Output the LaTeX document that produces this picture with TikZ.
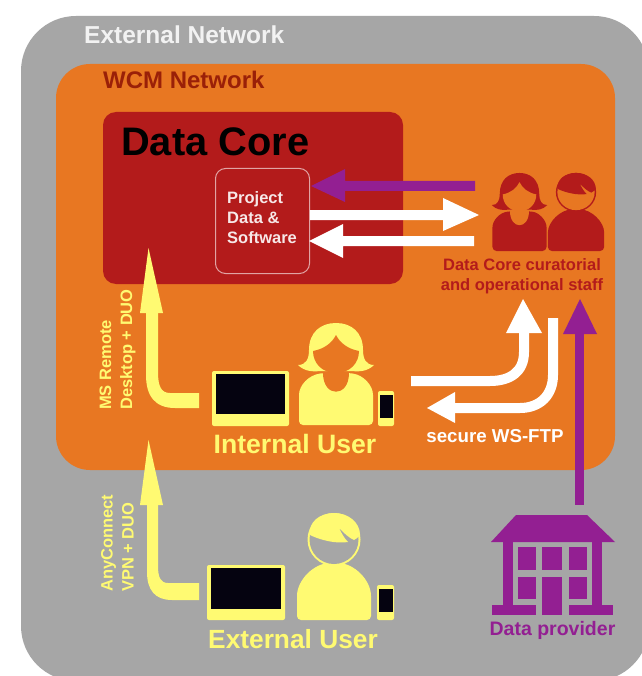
\documentclass[tikz,border=0pt]{standalone}
\usepackage{fontspec}
\setmainfont{Liberation Sans}
\definecolor{gr}{HTML}{A6A6A6}
\definecolor{og}{HTML}{E87722}
\definecolor{dr}{HTML}{B31B1B}
\definecolor{wcmc}{HTML}{9A2008}
\definecolor{yl}{HTML}{FFFA72}
\definecolor{pu}{HTML}{931F92}
\definecolor{ink}{HTML}{050310}
\tikzset{
  lbl/.style={inner sep=0pt,font=\bfseries,align=center},
  side/.style={lbl,rotate=90,anchor=west,align=left,text=yl,font=\bfseries\fontsize{16.5}{21}\selectfont},
  wire/.style={line width=10pt,line cap=butt,line join=round,white},
}
% woman, origin at the middle of the foot line, drawn at full (internal user) size
\newcommand{\womanfig}[2]{%
  \fill[#1,rounded corners=4pt] (-37,0) -- (-37,-26) .. controls (-37,-40) and (-27,-50) .. (-12,-52) -- (13,-52) .. controls (27,-50) and (37,-40) .. (37,-26) -- (37,0) -- cycle;
  \fill[#1] (-38,-60) .. controls (-30,-60) and (-27,-66) .. (-27,-75) .. controls (-27,-93) and (-15,-102) .. (0,-102) .. controls (15,-102) and (27,-93) .. (27,-75) .. controls (27,-66) and (30,-60) .. (38,-60) .. controls (32,-54) and (24,-53) .. (16,-54) -- (-16,-54) .. controls (-24,-53) and (-32,-54) .. (-38,-60) -- cycle;
  \fill[#2] (-23,-74) .. controls (-12,-76) and (-4,-82) .. (0,-90) .. controls (4,-82) and (12,-76) .. (23,-74) .. controls (23,-62) and (14,-52) .. (0,-52) .. controls (-14,-52) and (-23,-62) .. (-23,-74) -- cycle;
  \fill[#2] (-13,-52.5) .. controls (-13,-27) and (13,-27) .. (13,-52.5) -- cycle;
}
% man, same origin
\newcommand{\manfig}[2]{%
  \fill[#1,rounded corners=4pt] (-37,0) -- (-37,-20) .. controls (-37,-40) and (-20,-57) .. (0,-57) .. controls (20,-57) and (37,-40) .. (37,-20) -- (37,0) -- cycle;
  \fill[#1] (0,-80.5) circle (26.5pt);
  \fill[#2] (0,-80.5) circle (24.5pt);
  \fill[#1] (-24,-85) .. controls (-14,-80) and (2,-76) .. (14,-78) .. controls (10,-82) and (7,-88) .. (5,-92) .. controls (10,-87) and (15,-82) .. (20,-80) .. controls (24,-82) and (26,-85) .. (26,-85) .. controls (26,-98) and (14,-107) .. (0,-107) .. controls (-14,-107) and (-26,-98) .. (-24,-85) -- cycle;
}
\begin{document}
\begin{tikzpicture}[x=1pt,y=-1pt]
\useasboundingbox (0,0) rectangle (641,676);
\fill[white] (0,0) rectangle (641,676);
\fill[gr,rounded corners=55pt] (21,16) rectangle (649,681);
\fill[og,rounded corners=34pt] (56,64) rectangle (615,470);
\fill[dr,rounded corners=13pt] (103,112) rectangle (403,284);
\node[lbl,text=white!85!gr,font=\bfseries\fontsize{24.5}{26}\selectfont,anchor=west] (ext) at (84,35) {External Network};
\node[lbl,text=wcmc,font=\bfseries\fontsize{24}{26}\selectfont,anchor=west] (wcm) at (103,80) {WCM Network};
\node[lbl,text=black,font=\bfseries\fontsize{39.8}{42}\selectfont,anchor=west] (core) at (121,142) {Data Core};
\node[draw=white!60!dr,line width=1pt,rounded corners=10pt,minimum width=94pt,minimum height=105pt,anchor=north west,inner sep=0pt] (proj) at (215,168) {};
\node[lbl,text=white!90!dr,align=left,font=\bfseries\fontsize{16.5}{20}\selectfont,anchor=west] (projt) at (227,218) {Project\\Data \&\\Software};
% arrows between data box and staff
\fill[pu] (311,186) -- (345,169) -- (345,181) -- (475,181) -- (475,191) -- (345,191) -- (345,202) -- cycle;
\fill[white] (310,210) -- (443,210) -- (443,198) -- (479,215) -- (443,231) -- (443,220) -- (310,220) -- cycle;
\fill[white] (309,241) -- (343,224) -- (343,236) -- (474,236) -- (474,246) -- (343,246) -- (343,258) -- cycle;
% staff
\begin{scope}[shift={(519.5,251)},xscale=0.73,yscale=0.765,transform shape]
\womanfig{dr}{og}
\end{scope}
\begin{scope}[shift={(576,251)},xscale=0.76,yscale=0.73,transform shape]
\manfig{dr}{og}
\end{scope}
\node[lbl,text=dr,font=\bfseries\fontsize{16.5}{20}\selectfont] (staff) at (522,276) {Data Core curatorial\\and operational staff};
% white curves
\draw[wire] (411,381) -- (490,381) .. controls (510,381) and (524,372) .. (524,352) -- (524,332);
\fill[white] (506,333) -- (523,299) -- (542,333) -- cycle;
\draw[wire] (553,318) -- (553,375) .. controls (553,395) and (540,408) .. (520,408) -- (454,408);
\fill[white] (427,408) -- (455,392) -- (455,423) -- cycle;
\node[lbl,text=white,font=\bfseries\fontsize{18.7}{20}\selectfont] (ftp) at (495,436) {secure WS-FTP};
% purple arrow
\fill[pu] (575,505) rectangle (584,333);
\fill[pu] (563,334) -- (580,299) -- (597,334) -- cycle;
% building
\fill[pu] (516,515) -- (587,515) -- (615,542) -- (491,542) -- cycle;
\fill[pu] (503,541) rectangle (513,606);
\fill[pu] (592,541) rectangle (602,606);
\fill[pu] (492,605) rectangle (536,615);
\fill[pu] (569,605) rectangle (613,615);
\foreach \x/\y/\w/\h in {518/547/18/23, 542/547/20/23, 569/547/18/23, 518/577/18/22, 569/577/18/22, 542/577/20/38}
  \fill[pu] (\x,\y) rectangle ++(\w,\h);
\node[lbl,text=pu,font=\bfseries\fontsize{19.5}{22}\selectfont] (prov) at (552.5,630) {Data provider};
% internal user
\fill[yl,rounded corners=2pt] (212,371) rectangle (289,426);
\fill[ink] (216,374) rectangle (285,414);
\fill[yl,rounded corners=2pt] (378,391) rectangle (394,426);
\fill[ink] (380,395) rectangle (393,418);
\begin{scope}[shift={(336,425)}]
\womanfig{yl}{og}
\end{scope}
\node[lbl,text=yl,font=\bfseries\fontsize{26.6}{28}\selectfont] (inuser) at (295,444) {Internal User};
% external user
\fill[yl,rounded corners=2pt] (207,565) rectangle (285,620);
\fill[ink] (211,568) rectangle (281,609);
\fill[yl,rounded corners=2pt] (377,585) rectangle (394,620);
\fill[ink] (379,589) rectangle (393,612);
\begin{scope}[shift={(334,620)}]
\manfig{yl}{gr}
\end{scope}
\node[lbl,text=yl,font=\bfseries\fontsize{26.3}{28}\selectfont] (exuser) at (293,639) {External User};
% left arrows
\fill[yl] (146,312) -- (146,375) .. controls (146,396) and (155,408) .. (175,408) -- (199,408) -- (199,393) -- (170,393) .. controls (161,393) and (158,386) .. (158,372) -- (158,312) -- cycle;
\fill[yl] (148.5,248) -- (163,313) -- (140,313) -- cycle;
\node[side] (ms) at (117.5,410) {MS Remote\\Desktop + DUO};
\fill[yl] (147,504) -- (147,572) .. controls (147,590) and (155,600) .. (172,600) -- (199,600) -- (199,583) -- (168,583) .. controls (161,583) and (158,578) .. (158,566) -- (158,504) -- cycle;
\fill[yl] (148.5,440) -- (163,505) -- (140,505) -- cycle;
\node[side] (any) at (117.5,592) {AnyConnect\\VPN + DUO};
\end{tikzpicture}
\end{document}
